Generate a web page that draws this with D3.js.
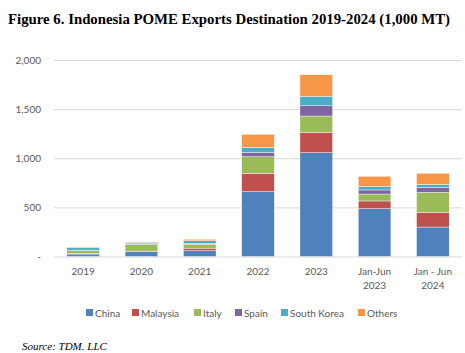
<!DOCTYPE html>
<html><head><meta charset="utf-8">
<script src="https://cdn.jsdelivr.net/npm/d3@7"></script>
<style>body{margin:0;background:#fff}svg{display:block}</style>
</head><body>
<svg id="c" width="465" height="353"></svg>
<script>
const categories = [["2019"],["2020"],["2021"],["2022"],["2023"],["Jan-Jun","2023"],["Jan - Jun","2024"]];
const seriesNames = ["China","Malaysia","Italy","Spain","South Korea","Others"];
const seriesColors = ["#4f81bd","#c0504d","#9bbb59","#8064a2","#4bacc6","#f79646"];
const china      = [25, 50, 60, 660, 1057, 487, 300];
const malaysia   = [5, 5, 25, 187, 207, 78, 150];
const italy      = [30, 70, 40, 169, 166, 71, 203];
const spain      = [5, 5, 10, 44, 105, 41, 51];
const southKorea = [25, 15, 25, 51, 95, 37, 31];
const others     = [5, 3, 15, 133, 220, 102, 112];
const yTicks = [0, 500, 1000, 1500, 2000];
const yTickLabels = ["-", "500", "1,000", "1,500", "2,000"];

const values = [china, malaysia, italy, spain, southKorea, others];
const rows = categories.map((c, i) => {
  const r = {key: i};
  seriesNames.forEach((s, j) => r[s] = values[j][i]);
  return r;
});
const stack = d3.stack().keys(seriesNames)(rows);

const svg = d3.select("#c");
svg.append("text").attr("x", 8).attr("y", 24)
  .attr("font-family", "Liberation Serif, Times New Roman, serif")
  .attr("font-weight", "bold").attr("font-size", 14.8).attr("fill", "#000")
  .text("Figure 6. Indonesia POME Exports Destination 2019-2024 (1,000 MT)");

const x = d3.scaleBand().domain(d3.range(categories.length)).range([54, 462]).paddingInner(0.44).paddingOuter(0.22);
const y = d3.scaleLinear().domain([0, 2000]).range([256.5, 60]);

const font = "Lato, Noto Sans, sans-serif";
const yAxis = d3.axisLeft(y).tickValues(yTicks).tickFormat((d, i) => yTickLabels[i]).tickSize(0).tickPadding(13);
const ga = svg.append("g").attr("transform", "translate(54,0)").call(yAxis);
ga.select(".domain").remove();
ga.selectAll("text").attr("font-family", font).attr("font-size", 10).attr("fill", "#595959");

svg.append("g").selectAll("line").data(yTicks).join("line")
  .attr("x1", 54).attr("x2", 462).attr("y1", d => y(d) + 0.5).attr("y2", d => y(d) + 0.5)
  .attr("stroke", "#d9d9d9").attr("stroke-width", 1);

svg.append("g").selectAll("g").data(stack).join("g")
  .attr("fill", (d, i) => seriesColors[i])
  .selectAll("rect").data(d => d).join("rect")
  .attr("x", (d, i) => x(i)).attr("width", x.bandwidth())
  .attr("y", d => y(d[1])).attr("height", d => Math.max(0, y(d[0]) - y(d[1])))
  .attr("stroke", "#fff").attr("stroke-width", 0.4);

const gx = svg.append("g");
categories.forEach((lines, i) => {
  const t = gx.append("text").attr("text-anchor", "middle")
    .attr("font-family", font).attr("font-size", 10).attr("fill", "#595959");
  lines.forEach((l, k) => t.append("tspan").attr("x", x(i) + x.bandwidth() / 2).attr("y", 275 + k * 14).text(l));
});

const legX = [86, 132, 194, 235, 281, 358];
const lg = svg.append("g");
seriesNames.forEach((s, i) => {
  lg.append("rect").attr("x", legX[i]).attr("y", 309).attr("width", 7).attr("height", 7).attr("fill", seriesColors[i]);
  lg.append("text").attr("x", legX[i] + 9).attr("y", 316.5).attr("font-family", font)
    .attr("font-size", 10).attr("fill", "#595959").text(s);
});

svg.append("text").attr("x", 22).attr("y", 350)
  .attr("font-family", "Liberation Serif, Times New Roman, serif").attr("font-style", "italic")
  .attr("font-size", 11).attr("fill", "#000").text("Source: TDM. LLC");
</script>
</body></html>
